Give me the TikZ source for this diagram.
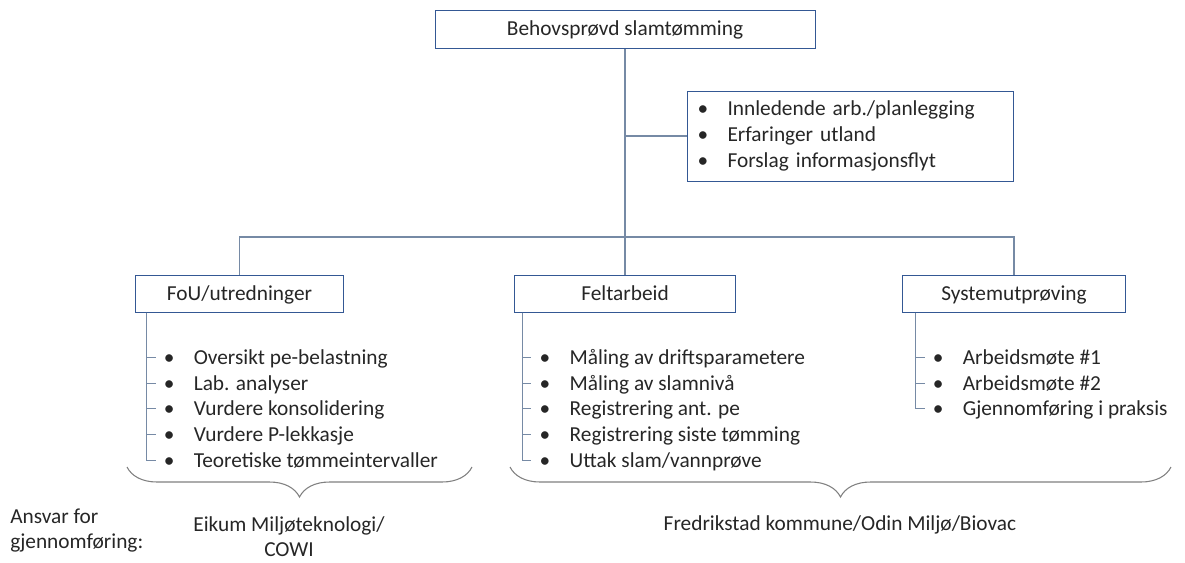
\documentclass[tikz,border=0pt]{standalone}
\usepackage{fontspec}
\setmainfont{Carlito}
\usetikzlibrary{positioning, decorations.pathreplacing}
\definecolor{boxblue}{RGB}{52,88,148}
\definecolor{linegray}{RGB}{118,138,165}
\definecolor{bracegray}{RGB}{128,128,128}
\definecolor{txtgray}{RGB}{38,38,38}
\newcommand{\blt}{\makebox[22.5pt][l]{\textbullet}}
\tikzset{
    base/.style = {font=\fontsize{16pt}{19.25pt}\selectfont, text=txtgray},
    % Boxes
    box/.style     = {base, rectangle, draw=boxblue, line width=0.75pt, minimum height=27.75pt,
                      text height=10.3pt, text depth=0pt, inner sep=0pt},
    infobox/.style = {base, rectangle, draw=boxblue, line width=0.75pt, align=left,
                      text width=229.5pt, inner xsep=7.5pt, minimum height=67.5pt},
    item/.style    = {base, inner sep=0pt, text height=10.3pt, text depth=0pt},
    note/.style    = {base, inner sep=0pt},
    % Lines
    conn/.style  = {draw=linegray, line width=0.8pt},
    curly/.style = {draw=bracegray, line width=0.8pt, decorate,
                    decoration={brace, mirror, amplitude=22.5pt}}
}

\begin{document}
\begin{tikzpicture}[x=0.75pt, y=-0.75pt]
    \useasboundingbox (0,0) rectangle (1185,562);

    % Top node and first work package
    \node (root) [box, minimum width=285pt, minimum height=28.5pt] at (625,29) {Behovsprøvd slamtømming};
    \node (info) [infobox, below right=31.5pt and 46.5pt of root.south]
        {\blt Innledende arb./planlegging\\\blt Erfaringer utland\\\blt Forslag informasjonsflyt};

    % Second level
    \node (felt) [box, minimum width=165.75pt, below=169.5pt of root] {Feltarbeid};
    \node (fou) [box, minimum width=156pt, left=127.5pt of felt] {FoU/utredninger};
    \node (sys) [box, minimum width=167.25pt, right=124.5pt of felt] {Systemutprøving};

    % Tasks under FoU
    \node (fou1) [item, below right=28.4pt and 21.4pt of fou.south west] {\blt Oversikt pe-belastning};
    \node (fou2) [item, below=8.55pt of fou1.south west, anchor=north west] {\blt Lab. analyser};
    \node (fou3) [item, below=8.55pt of fou2.south west, anchor=north west] {\blt Vurdere konsolidering};
    \node (fou4) [item, below=8.55pt of fou3.south west, anchor=north west] {\blt Vurdere P-lekkasje};
    \node (fou5) [item, below=8.55pt of fou4.south west, anchor=north west] {\blt Teoretiske tømmeintervaller};

    % Tasks under Feltarbeid
    \node (felt1) [item, below right=28.4pt and 19.1pt of felt.south west] {\blt Måling av driftsparametere};
    \node (felt2) [item, below=8.55pt of felt1.south west, anchor=north west] {\blt Måling av slamnivå};
    \node (felt3) [item, below=8.55pt of felt2.south west, anchor=north west] {\blt Registrering ant. pe};
    \node (felt4) [item, below=8.55pt of felt3.south west, anchor=north west] {\blt Registrering siste tømming};
    \node (felt5) [item, below=8.55pt of felt4.south west, anchor=north west] {\blt Uttak slam/vannprøve};

    % Tasks under Systemutproving
    \node (sys1) [item, below right=28.4pt and 22.9pt of sys.south west] {\blt Arbeidsmøte \#1};
    \node (sys2) [item, below=8.55pt of sys1.south west, anchor=north west] {\blt Arbeidsmøte \#2};
    \node (sys3) [item, below=8.55pt of sys2.south west, anchor=north west] {\blt Gjennomføring i praksis};

    % Tree lines
    \coordinate (bar) at (625,237);
    \draw [conn] (root) -- (felt);
    \draw [conn] (fou.north) |- (bar) -| (sys.north);
    \draw [conn] (info.west) -- (info.west -| root.south);

    \draw [conn] (fou.south -| fou1.west) ++(-12.75pt,0) |- ([xshift=-6pt]fou1.west);
    \draw [conn] (fou.south -| fou1.west) ++(-12.75pt,0) |- ([xshift=-6pt]fou2.west);
    \draw [conn] (fou.south -| fou1.west) ++(-12.75pt,0) |- ([xshift=-6pt]fou3.west);
    \draw [conn] (fou.south -| fou1.west) ++(-12.75pt,0) |- ([xshift=-6pt]fou4.west);
    \draw [conn] (fou.south -| fou1.west) ++(-12.75pt,0) |- ([xshift=-6pt]fou5.west);

    \draw [conn] (felt.south -| felt1.west) ++(-12.75pt,0) |- ([xshift=-6pt]felt1.west);
    \draw [conn] (felt.south -| felt1.west) ++(-12.75pt,0) |- ([xshift=-6pt]felt2.west);
    \draw [conn] (felt.south -| felt1.west) ++(-12.75pt,0) |- ([xshift=-6pt]felt3.west);
    \draw [conn] (felt.south -| felt1.west) ++(-12.75pt,0) |- ([xshift=-6pt]felt4.west);
    \draw [conn] (felt.south -| felt1.west) ++(-12.75pt,0) |- ([xshift=-6pt]felt5.west);

    \draw [conn] (sys.south -| sys1.west) ++(-12.75pt,0) |- ([xshift=-6pt]sys1.west);
    \draw [conn] (sys.south -| sys1.west) ++(-12.75pt,0) |- ([xshift=-6pt]sys2.west);
    \draw [conn] (sys.south -| sys1.west) ++(-12.75pt,0) |- ([xshift=-6pt]sys3.west);

    % Responsibility braces
    \coordinate (fouL) at (127,467);
    \coordinate (fouR) at (472,467);
    \coordinate (feltL) at (510,467);
    \coordinate (sysR) at (1171,467);
    \draw [curly] (fouL) -- (fouR);
    \draw [curly] (feltL) -- (sysR);

    \node (ansvar) [note, align=left, anchor=west] at (10,530.5) {Ansvar for\\gjennomføring:};
    \node (eikum) [note, align=center] at (289,536.5) {Eikum Miljøteknologi/\\COWI};
    \node (fred) [note] at (840,525) {Fredrikstad kommune/Odin Miljø/Biovac};
\end{tikzpicture}
\end{document}
